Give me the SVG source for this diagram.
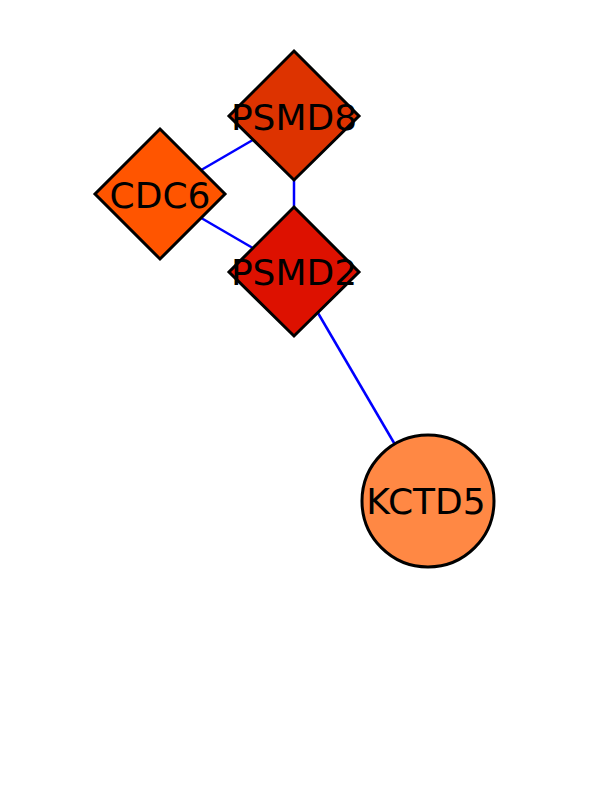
<svg xmlns="http://www.w3.org/2000/svg" width="612" height="792" viewBox="0 0 612 792">
<style>
.edge{stroke:#0000ff;stroke-width:2.5;fill:none}
.node{stroke:#000;stroke-width:3}
.lbl{font-family:"DejaVu Sans",Verdana,sans-serif;font-size:36px;fill:#000;text-anchor:middle}
</style>
<rect width="612" height="792" fill="#fff"/>
<g id="edges">
<line class="edge" x1="160" y1="194" x2="294" y2="116"/>
<line class="edge" x1="160" y1="194" x2="294" y2="272"/>
<line class="edge" x1="294" y1="116" x2="294" y2="272"/>
<line class="edge" x1="294" y1="272" x2="428" y2="501"/>
</g>
<g id="PSMD8">
<polygon class="node" fill="#dd3300" points="294,51 359,116 294,180 229,116"/>
<text class="lbl" x="294" y="130">PSMD8</text>
</g>
<g id="CDC6">
<polygon class="node" fill="#ff5500" points="160,129 225,194 160,259 95,194"/>
<text class="lbl" x="160" y="208">CDC6</text>
</g>
<g id="PSMD2">
<polygon class="node" fill="#dd1100" points="294,207 359,272 294,336 229,272"/>
<text class="lbl" x="294" y="285">PSMD2</text>
</g>
<g id="KCTD5">
<circle class="node" fill="#ff8844" cx="428" cy="501" r="66"/>
<text class="lbl" x="426" y="514">KCTD5</text>
</g>
</svg>
